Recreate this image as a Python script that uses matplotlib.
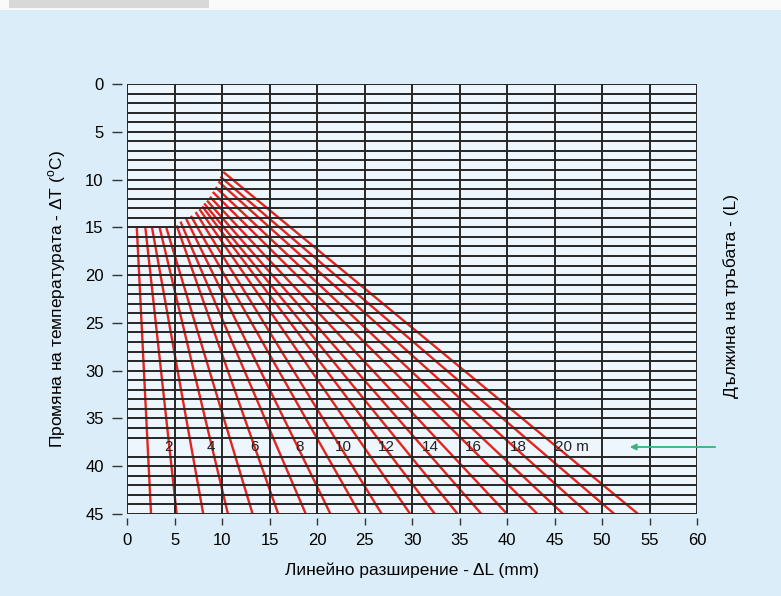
import matplotlib.pyplot as plt
from matplotlib.patches import Rectangle, FancyArrowPatch

plt.rcParams['font.family'] = ['Liberation Sans', 'DejaVu Sans']

# pipe lengths (m) and the end points of each line (dT in C, dL in mm)
lengths = list(range(1, 21))
start_x = [1.0, 1.9, 2.6, 3.4, 4.1, 5.2, 5.6, 6.2, 6.7, 7.2,
           7.6, 7.9, 8.1, 8.4, 8.7, 9.0, 9.3, 9.6, 9.8, 10.1]
start_y = [15.0, 15.0, 15.0, 15.0, 15.0, 14.8, 14.4, 14.1, 13.8, 13.4,
           13.1, 12.8, 12.5, 12.2, 11.8, 11.3, 10.8, 10.2, 9.7, 9.2]
end_x = [2.5, 5.2, 8.0, 10.6, 13.2, 15.9, 18.8, 21.4, 24.5, 26.8,
         29.8, 32.4, 34.8, 37.3, 40.0, 43.2, 45.9, 48.6, 51.3, 53.8]
end_y = 45

label_text = ['2', '4', '6', '8', '10', '12', '14', '16', '18', '20 m']
label_x = [4.3, 8.8, 13.4, 18.1, 22.8, 27.3, 31.9, 36.5, 41.2, 46.8]
label_y = 38

x_ticks = list(range(0, 61, 5))
y_ticks = list(range(0, 46, 5))

fig = plt.figure(figsize=(7.81, 5.96), dpi=100)
fig.patch.set_facecolor('#daedf8')
# white strip and grey tab along the top edge
fig.patches.append(Rectangle((0, 1 - 10 / 596), 1, 10 / 596, transform=fig.transFigure,
                             facecolor='#fafafa', edgecolor='none', zorder=0))
fig.patches.append(Rectangle((9 / 781, 1 - 8 / 596), 200 / 781, 8 / 596, transform=fig.transFigure,
                             facecolor='#d8d8d8', edgecolor='none', zorder=1))

ax = fig.add_axes([127.3 / 781, 1 - 514 / 596, 569.7 / 781, 430 / 596])
ax.set_facecolor('#eef6fd')

for i in range(len(lengths)):
    ax.plot([start_x[i], end_x[i]], [start_y[i], end_y], color='#e2261e',
            linewidth=1.7, solid_capstyle='butt', zorder=2)

# grid: every 1 C horizontally, every 5 mm vertically
for yv in range(0, 46):
    if yv == label_y:
        continue
    ax.axhline(yv, color='#262626', linewidth=1.4, zorder=3)
for xv in x_ticks:
    ax.axvline(xv, color='#262626', linewidth=1.4, zorder=3)

for t, lx in zip(label_text, label_x):
    ax.text(lx, label_y, t, ha='center', va='center', fontsize=11, color='#222222', zorder=4)

ax.set_xlim(0, 60)
ax.set_ylim(45, 0)
ax.set_xticks(x_ticks)
ax.set_yticks(y_ticks)
for s in ['top', 'right', 'bottom', 'left']:
    ax.spines[s].set_visible(False)
ax.spines['bottom'].set_position(('outward', 3))
ax.spines['left'].set_position(('outward', 4))
ax.tick_params(axis='x', length=5, width=1, color='#333333', labelsize=12, pad=6)
ax.tick_params(axis='y', length=7, width=1, color='#333333', labelsize=12, pad=6)

ax.set_xlabel('Линейно разширение - ΔL (mm)', fontsize=12.5, labelpad=10)
ax.set_ylabel('Промяна на температурата - ΔT ($^{\\mathregular{o}}$C)', fontsize=12.5, labelpad=12)

fig.text(731 / 781, 1 - 296 / 596, 'Дължина на тръбата - (L)', rotation=90,
         ha='center', va='center', fontsize=12.5)

arrow = FancyArrowPatch((718 / 781, 1 - 447 / 596), (627 / 781, 1 - 447 / 596),
                        transform=fig.transFigure, arrowstyle='-|>', mutation_scale=9,
                        color='#36b37e', linewidth=1.3)
fig.patches.append(arrow)

fig.savefig('out.png', dpi=100, facecolor=fig.get_facecolor())
